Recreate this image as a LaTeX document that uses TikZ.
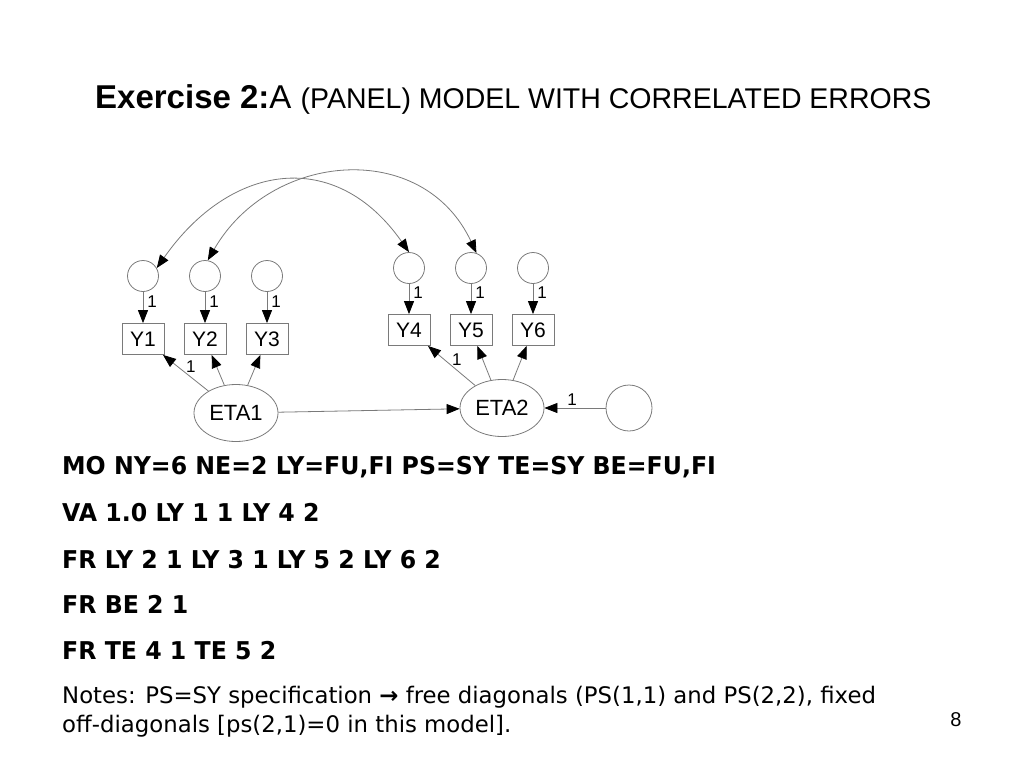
\documentclass[tikz,border=0pt]{standalone}
\usepackage{fontspec}
\setmainfont{Liberation Sans}
\newfontfamily\cmdfont[FakeStretch=0.965]{DejaVu Sans}
\newfontfamily\notefont{DejaVu Sans}
\usetikzlibrary{arrows.meta,positioning,shapes.geometric}
\definecolor{lineGrey}{HTML}{7A7A7A}
\definecolor{inkDark}{HTML}{000000}

\begin{document}
\begin{tikzpicture}[
  x=1pt, y=-1pt,
  errc/.style={circle, draw=lineGrey, line width=0.8pt, minimum size=31pt, inner sep=0pt},
  dist/.style={errc, minimum size=46pt},
  obs/.style={rectangle, draw=lineGrey, line width=0.8pt, minimum width=42pt,
              minimum height=31pt, inner sep=0pt, font=\fontsize{21}{21}\selectfont},
  lat/.style={ellipse, draw=lineGrey, line width=0.8pt, minimum width=84pt,
              minimum height=57pt, inner sep=0pt, font=\fontsize{22}{22}\selectfont},
  flow/.style={-{Triangle[length=13pt,width=10pt,color=inkDark]}, line width=0.8pt, draw=lineGrey},
  covar/.style={{Triangle[length=13pt,width=10pt,color=inkDark]}-{Triangle[length=13pt,width=10pt,color=inkDark]},
                line width=0.8pt, draw=lineGrey},
  wt/.style={font=\fontsize{17}{17}\selectfont, inner sep=1pt},
  cmd/.style={anchor=base west, inner sep=0pt, font=\cmdfont\bfseries\fontsize{24.5}{28}\selectfont},
  note/.style={anchor=base west, inner sep=0pt, font=\notefont\fontsize{22.8}{26}\selectfont},
]
\useasboundingbox (0,0) rectangle (1024,768);

% =============================== title =====================================
\node[anchor=base west, inner sep=0pt] (title) at (95,108)
  {\fontsize{33}{36}\selectfont\bfseries Exercise 2:\mdseries A
   \fontsize{28.5}{32}\selectfont (PANEL) MODEL WITH CORRELATED ERRORS};

% =============================== wave 1 ====================================
\node[errc] at (143,276) (e1) {};
\node[errc] at (205,276) (e2) {};
\node[errc] at (267,276) (e3) {};
\node[obs]  at (143,339) (y1) {Y1};
\node[obs]  at (205,339) (y2) {Y2};
\node[obs]  at (267,339) (y3) {Y3};
\node[lat]  at (236,413) (eta1) {ETA1};

% =============================== wave 2 ====================================
\node[errc] at (409,268) (e4) {};
\node[errc] at (471,268) (e5) {};
\node[errc] at (533,268) (e6) {};
\node[obs]  at (409,330) (y4) {Y4};
\node[obs]  at (471,330) (y5) {Y5};
\node[obs]  at (533,330) (y6) {Y6};
\node[lat]  at (502,408) (eta2) {ETA2};
\node[dist] at (629,408) (z2) {};

% =============================== paths =====================================
% errors -> indicators
\draw[flow] (e1) -- (y1) node[wt, pos=0.3, right, xshift=3pt] {1};
\draw[flow] (e2) -- (y2) node[wt, pos=0.3, right, xshift=3pt] {1};
\draw[flow] (e3) -- (y3) node[wt, pos=0.3, right, xshift=3pt] {1};
\draw[flow] (e4) -- (y4) node[wt, pos=0.3, right, xshift=3pt] {1};
\draw[flow] (e5) -- (y5) node[wt, pos=0.3, right, xshift=3pt] {1};
\draw[flow] (e6) -- (y6) node[wt, pos=0.3, right, xshift=3pt] {1};

% loadings
\draw[flow] (eta1) -- (y1) node[wt, pos=0.5, above right, xshift=-1pt, yshift=-1pt] {1};
\draw[flow] (eta1) -- (y2);
\draw[flow] (eta1) -- (y3);
\draw[flow] (eta2) -- (y4) node[wt, pos=0.5, above right, xshift=-1pt, yshift=-1pt] {1};
\draw[flow] (eta2) -- (y5);
\draw[flow] (eta2) -- (y6);

% structural part
\draw[flow] (eta1) -- (eta2);
\draw[flow] (z2) -- (eta2) node[wt, midway, above, xshift=-3pt, yshift=1pt] {1};

% correlated errors over time
\draw[covar] (e1.30) to[out=55, in=125, looseness=1.3] (e4.90);
\draw[covar] (e2.80) to[out=60, in=115, looseness=1.2] (e5.70);

% =============================== syntax ====================================
\node[cmd] at (62,474) (mo) {MO NY=6 NE=2 LY=FU,FI PS=SY TE=SY BE=FU,FI};
\node[cmd] at (62,521) (va) {VA 1.0 LY 1 1 LY 4 2};
\node[cmd] at (62,568) (frly) {FR LY 2 1 LY 3 1 LY 5 2 LY 6 2};
\node[cmd] at (62,613) (frbe) {FR BE 2 1};
\node[cmd] at (62,659) (frte) {FR TE 4 1 TE 5 2};
\node[note] at (62,703) (notes1)
  {Notes: PS=SY specification \textbf{→} free diagonals (PS(1,1) and PS(2,2), fixed};
\node[note] at (62,732) (notes2) {off-diagonals [ps(2,1)=0 in this model].};

\node[anchor=base, inner sep=0pt, font=\fontsize{20}{20}\selectfont] at (956,726) (page) {8};

\end{tikzpicture}
\end{document}
